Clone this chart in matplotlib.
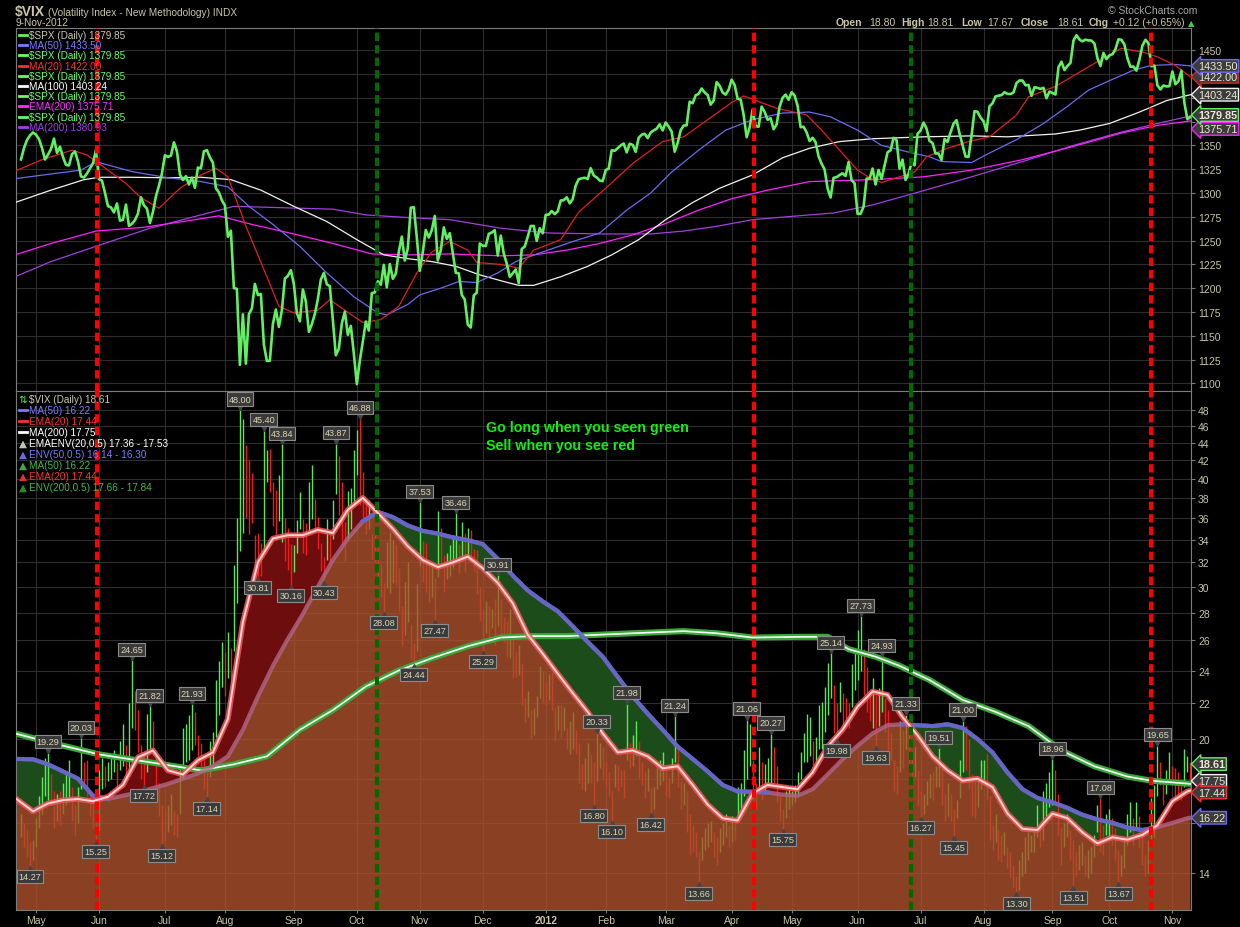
import numpy as np
import matplotlib
matplotlib.use("Agg")
import matplotlib.pyplot as plt
from matplotlib.lines import Line2D
from matplotlib.patches import Rectangle
from matplotlib.transforms import offset_copy

plt.rcParams['font.family'] = ['Liberation Sans', 'DejaVu Sans']

W, H = 1240, 928

# x axis = trading days counted from 2 May 2011 (day 0); first bar is 25 Apr 2011 (day -5)
first_day = -5
month_days = [0, 21, 43, 63, 86, 107, 128, 149, 170, 190, 210, 232, 252, 274, 295, 316, 339, 358, 379]
month_labels = ["May", "Jun", "Jul", "Aug", "Sep", "Oct", "Nov", "Dec", "2012", "Feb", "Mar",
                "Apr", "May", "Jun", "Jul", "Aug", "Sep", "Oct", "Nov"]

# $SPX daily closes, 25 Apr 2011 .. 9 Nov 2012
spx_close = [
    1335.25, 1347.24, 1355.66, 1360.48, 1363.61,
    1361.22, 1356.62, 1347.32, 1335.10, 1340.20, 1346.29, 1357.16, 1342.08, 1348.65, 1337.77,
    1329.47, 1328.98, 1340.68, 1343.60, 1333.27, 1317.37, 1316.28, 1320.47, 1325.69, 1331.10, 1345.20,
    1314.55, 1312.94, 1300.16, 1286.17, 1284.94, 1279.56, 1289.00, 1270.98, 1271.83, 1287.87, 1265.42,
    1267.64, 1271.50, 1278.36, 1295.52, 1287.14, 1283.50, 1268.45, 1280.10, 1296.67, 1307.41, 1320.64,
    1339.67, 1337.88, 1339.22, 1353.22, 1343.80, 1319.49, 1313.64, 1317.72, 1308.87, 1316.14,
    1305.44, 1326.73, 1325.84, 1343.80, 1345.02, 1337.43, 1331.94, 1304.89, 1300.67, 1292.28,
    1286.94, 1254.05, 1260.34, 1200.07, 1199.38, 1119.46, 1172.53, 1120.76, 1172.64, 1178.81, 1204.49,
    1192.76, 1193.89, 1140.65, 1123.53, 1123.82, 1162.35, 1177.60, 1159.27, 1176.80, 1210.08, 1212.92, 1218.89,
    1204.42, 1173.97, 1165.24, 1198.62, 1185.90, 1154.23, 1162.27, 1172.87, 1188.68, 1209.11, 1216.01,
    1204.09, 1202.09, 1166.76, 1129.56, 1136.43, 1162.95, 1175.38, 1151.06, 1160.40, 1131.42,
    1099.23, 1123.95, 1144.03, 1164.97, 1155.46, 1194.89, 1195.54, 1207.25, 1203.66, 1224.58, 1200.86,
    1225.38, 1209.88, 1215.39, 1238.25, 1254.19, 1229.05, 1242.00, 1284.59, 1285.09, 1253.30,
    1218.28, 1237.90, 1261.15, 1253.23, 1261.12, 1275.92, 1229.10, 1239.70, 1263.85, 1251.78, 1257.81,
    1236.91, 1216.13, 1215.65, 1192.98, 1188.04, 1161.79, 1158.67, 1192.55, 1195.19, 1246.96,
    1244.58, 1244.28, 1257.08, 1258.47, 1261.01, 1234.35, 1255.19, 1236.47, 1225.73, 1211.82, 1215.75,
    1219.66, 1205.35, 1241.30, 1243.72, 1254.00, 1265.33, 1265.43, 1249.64, 1263.02, 1257.60,
    1277.06, 1277.30, 1281.06, 1277.81, 1280.70, 1292.08, 1292.48, 1295.50, 1289.09, 1293.67,
    1308.04, 1314.50, 1315.38, 1316.00, 1314.65, 1326.06, 1318.43, 1316.33, 1313.01, 1312.41,
    1324.09, 1325.54, 1344.90, 1344.33, 1347.05, 1349.96, 1351.95, 1342.64, 1351.77, 1350.50,
    1343.23, 1358.04, 1361.23, 1362.21, 1357.66, 1363.46, 1365.74, 1367.59, 1372.18, 1365.68,
    1374.09, 1369.63, 1364.33, 1343.36, 1352.63, 1365.91, 1370.87, 1371.09, 1395.95, 1394.28, 1402.60,
    1404.17, 1409.75, 1405.52, 1402.89, 1392.78, 1397.11, 1416.51, 1412.52, 1405.54, 1403.28, 1408.47,
    1419.04, 1413.38, 1398.96, 1398.08, 1382.20, 1358.59, 1368.71, 1387.57, 1370.26, 1369.57,
    1390.78, 1385.14, 1376.92, 1378.53, 1366.94, 1371.97, 1390.69, 1399.98, 1403.36, 1397.91,
    1405.82, 1402.31, 1391.57, 1369.10, 1369.58, 1363.72, 1354.58, 1357.99, 1353.39, 1338.35, 1330.66,
    1324.80, 1304.86, 1295.22, 1315.99, 1316.63, 1318.86, 1320.68, 1317.82, 1332.42, 1313.32, 1310.33,
    1278.04, 1278.18, 1285.50, 1315.13, 1314.99, 1325.66, 1308.93, 1324.18, 1314.88, 1329.10, 1342.84,
    1344.78, 1357.98, 1355.69, 1325.51, 1335.02, 1313.72, 1319.99, 1331.85, 1329.04, 1362.16,
    1365.51, 1374.02, 1367.58, 1354.68, 1352.46, 1341.47, 1341.45, 1334.76, 1356.78, 1353.64, 1363.67,
    1372.78, 1376.51, 1362.66, 1350.52, 1338.31, 1337.89, 1360.02, 1385.97, 1385.30, 1379.32,
    1375.32, 1365.00, 1390.99, 1394.23, 1401.35, 1402.22, 1402.80, 1405.87, 1404.11, 1403.93, 1405.53,
    1415.51, 1418.16, 1418.13, 1413.17, 1413.49, 1402.08, 1411.13, 1410.44, 1409.30, 1410.49, 1399.48, 1406.58,
    1404.94, 1403.44, 1432.12, 1437.92, 1429.08, 1433.56, 1436.56, 1459.99, 1465.77, 1461.19,
    1459.32, 1461.05, 1460.26, 1460.15, 1456.89, 1441.59, 1433.32, 1447.15, 1440.67,
    1444.49, 1445.75, 1450.99, 1461.40, 1460.93, 1455.88, 1441.48, 1432.56, 1432.84, 1428.59, 1440.13,
    1454.92, 1460.91, 1457.34, 1433.19, 1433.82, 1413.11, 1408.75, 1412.97, 1411.94, 1412.16,
    1427.59, 1414.20, 1417.26, 1428.39, 1394.53, 1377.51, 1379.85,
]

# averages
spx_ma20_day = [-7, 2, 12, 17, 21, 30, 35, 41, 48, 55, 60, 64, 70, 77, 81, 86, 94, 98, 102, 109,
                115, 121, 127, 132, 138, 144, 147, 155, 161, 166, 175, 181, 190, 199, 209, 216, 224, 232,
                236, 247, 257, 262, 268, 274, 278, 282, 288, 293, 297, 304, 311, 318, 327, 331, 340, 347,
                354, 362, 369, 374, 380, 385]
spx_ma20 = [1323, 1335, 1345, 1340, 1331, 1310, 1295, 1284, 1305, 1319, 1326, 1317, 1265, 1212, 1181,
            1174, 1177, 1188, 1179, 1164, 1167, 1181, 1216, 1238, 1249, 1240, 1227, 1225, 1221, 1240,
            1251, 1280, 1305, 1331, 1354, 1359, 1377, 1395, 1402, 1389, 1382, 1366, 1345, 1324, 1316,
            1311, 1317, 1322, 1338, 1347, 1354, 1359, 1382, 1401, 1412, 1425, 1438, 1452, 1448, 1443,
            1434, 1422]
spx_ma50_day = [-7, 5, 15, 19, 21, 32, 44, 55, 64, 71, 79, 88, 97, 106, 114, 117, 124, 128, 135, 141,
                147, 154, 160, 168, 179, 188, 197, 205, 212, 221, 230, 239, 249, 258, 265, 274, 282, 291,
                298, 302, 312, 318, 327, 336, 344, 351, 358, 366, 372, 380, 385]
spx_ma50 = [1315, 1320, 1324, 1331, 1332, 1322.5, 1316, 1312, 1306.5, 1286, 1267, 1244, 1216, 1191,
            1174, 1172, 1183, 1193, 1200, 1207, 1206, 1216, 1228, 1237, 1249, 1258, 1282, 1300, 1322,
            1345, 1366, 1377, 1384, 1385, 1380, 1366, 1350, 1343, 1338, 1333, 1332, 1342, 1356, 1373,
            1391, 1408, 1418, 1429, 1434, 1435, 1433.5]
spx_ma100_day = [-7, 5, 16, 21, 32, 44, 55, 65, 75, 86, 97, 107, 116, 124, 132, 140, 148, 156, 161, 166,
                 175, 184, 192, 201, 210, 219, 228, 239, 249, 258, 268, 279, 296, 312, 324, 340, 348, 358,
                 368, 377, 385]
spx_ma100 = [1290, 1303, 1314, 1316.5, 1316.5, 1316, 1316.5, 1314, 1303, 1286, 1270, 1251, 1235, 1231,
             1228, 1223, 1214, 1207, 1203, 1203, 1212, 1223, 1235, 1251, 1272, 1290, 1305, 1319, 1337,
             1347, 1354, 1357, 1359, 1360, 1359, 1362, 1366, 1373, 1385, 1397, 1403.24]
spx_ema200_day = [-7, 5, 20, 36, 49, 61, 72, 86, 99, 112, 125, 138, 155, 166, 177, 188, 199, 210, 221,
                  232, 244, 258, 279, 296, 312, 329, 346, 362, 374, 385]
spx_ema200 = [1235, 1247, 1260, 1264, 1270, 1276, 1267, 1257, 1247, 1236, 1235, 1236, 1234, 1235, 1240,
              1247, 1256, 1268, 1282, 1294, 1303, 1312, 1314, 1317, 1324, 1335, 1349, 1363, 1371, 1375.71]
spx_ma200_day = [-7, 5, 20, 38, 55, 66, 77, 99, 110, 125, 138, 155, 171, 188, 205, 216, 227, 239, 258,
                 266, 279, 291, 301, 312, 329, 346, 362, 374, 385]
spx_ma200 = [1212, 1228, 1244, 1263, 1277, 1286, 1285, 1283, 1277, 1274, 1272, 1263, 1258, 1257, 1257,
             1260, 1265, 1272, 1277, 1279, 1287.5, 1298, 1307, 1317, 1333, 1350, 1364, 1373, 1380.93]

# $VIX daily high and low, 25 Apr 2011 .. 9 Nov 2012
vix_high = [
    16.4, 16.0, 15.7, 15.2, 15.3,
    16.2, 17.2, 18.1, 19.0, 19.29, 18.2, 17.4, 17.3, 17.4, 17.8, 18.3, 18.9, 17.6, 16.8, 17.6, 20.03,
    18.8, 18.9, 17.4, 16.9, 16.1,
    18.4, 19.0, 18.6, 18.8, 19.0, 19.4, 18.8, 19.9, 20.8, 19.7, 22.0, 24.65, 22.7, 21.6, 19.7, 19.3,
    21.4, 21.82, 21.0, 19.4, 17.8, 16.8,
    16.6, 16.8, 17.3, 16.5, 16.4, 18.7, 20.6, 20.8, 21.3, 21.93, 21.5, 20.2, 19.8, 18.9, 18.3, 19.9,
    20.4, 23.4, 24.6, 25.9,
    25.2, 26.6, 25.5, 31.8, 36.0, 48.00, 46.9, 43.7, 42.0, 40.6, 34.4, 34.6, 33.7, 45.40, 43.1, 43.3,
    39.6, 38.8, 40.4, 43.84, 36.0, 35.1, 33.6,
    33.5, 35.8, 38.6, 35.9, 35.5, 39.6, 41.5, 37.9, 36.1, 33.7, 32.5, 35.9, 34.5, 37.8, 43.87, 42.5,
    39.6, 35.6, 38.7, 39.0, 43.1,
    45.5, 46.88, 40.7, 37.6, 37.8, 34.5, 34.4, 33.4, 31.9, 30.3, 33.8, 34.7, 34.0, 33.5, 31.5, 28.5,
    30.4, 32.0, 27.1, 25.8, 30.2,
    37.53, 33.9, 33.7, 32.2, 32.0, 30.7, 36.7, 35.1, 32.6, 32.8, 33.5, 34.4, 36.46, 33.6, 35.6, 34.6,
    35.1, 34.9, 33.2, 33.1, 30.0,
    28.2, 28.9, 28.5, 28.3, 29.0, 30.91, 29.0, 27.7, 27.4, 28.3, 26.1, 25.2, 25.7, 24.5, 22.3, 22.7,
    21.6, 21.7, 22.4, 24.3, 24.0,
    23.3, 23.8, 23.9, 21.8, 21.9, 21.9, 21.8, 20.6, 21.0, 21.5, 20.5, 19.8, 18.7, 19.0, 19.8, 19.2,
    18.8, 20.33, 19.8, 19.6,
    18.8, 18.3, 17.4, 18.7, 18.6, 18.4, 18.4, 21.98, 19.8, 20.2, 21.0, 19.9, 18.8, 18.3, 18.5, 17.6,
    17.6, 18.6, 18.9, 19.3,
    18.5, 18.1, 19.0, 21.24, 19.7, 17.9, 17.8, 17.4, 16.4, 15.9, 15.6, 14.8, 15.4, 15.8, 16.0, 16.1,
    15.6, 15.4, 15.8, 16.0, 16.4, 15.9,
    16.3, 16.2, 17.6, 17.8, 19.4, 21.06, 20.8, 18.9, 17.8, 19.6, 18.8, 18.7, 19.0, 20.27, 19.6, 18.6,
    17.2, 16.6, 17.4, 17.5,
    17.4, 17.7, 18.3, 19.3, 20.3, 21.4, 21.2, 19.9, 20.1, 21.9, 22.1, 23.0, 24.5, 25.14, 23.1, 22.0,
    23.3, 22.6, 22.3, 22.0, 24.4, 25.4,
    26.7, 27.73, 25.4, 24.2, 22.8, 23.5, 22.8, 22.9, 24.93, 22.3, 21.6, 20.3, 18.9, 18.6, 21.0, 20.5,
    21.33, 20.3, 19.4, 19.6, 18.4,
    17.4, 17.3, 17.9, 18.2, 18.3, 18.6, 19.51, 18.5, 17.3, 17.8, 17.3, 16.6, 17.0, 18.9, 21.00, 20.7,
    20.0, 18.2, 17.9, 18.0, 18.9,
    18.9, 19.2, 17.2, 15.9, 16.4, 15.7, 15.5, 15.6, 15.0, 14.8, 14.3, 13.9, 14.5, 14.8, 15.4, 15.6,
    15.5, 15.6, 16.8, 16.0, 17.4, 17.8, 18.3,
    18.96, 18.4, 17.3, 15.8, 16.0, 16.4, 15.7, 15.3, 14.8, 15.1, 15.2, 14.7, 14.9, 15.0, 15.5, 16.8,
    17.08, 15.9, 16.4,
    16.6, 16.2, 15.8, 14.9, 14.7, 15.4, 16.4, 16.9, 16.2, 16.9, 16.3, 15.5, 14.7, 15.3, 17.1, 17.7,
    19.65, 18.8, 17.9, 18.4, 19.3,
    18.6, 18.5, 18.3, 18.0, 19.5, 19.1, 18.81,
]
vix_low = [
    15.4, 15.0, 14.6, 14.27, 14.5,
    15.0, 15.8, 16.4, 17.2, 17.0, 16.8, 15.8, 16.1, 15.9, 16.4, 16.8, 17.1, 16.1, 15.5, 16.0, 17.5,
    17.6, 17.2, 16.3, 15.8, 15.25,
    15.7, 17.5, 17.6, 17.9, 18.0, 18.3, 17.6, 18.4, 18.6, 17.9, 18.3, 20.6, 20.5, 19.3, 18.0, 17.72,
    18.3, 19.4, 19.2, 17.5, 16.3, 15.12,
    15.3, 15.6, 15.9, 15.5, 15.4, 16.4, 18.0, 18.8, 18.9, 19.4, 19.7, 18.7, 18.5, 17.5, 17.14, 18.1,
    18.7, 20.1, 21.3, 23.0,
    22.4, 23.5, 22.9, 25.3, 28.7, 33.0, 34.6, 36.0, 34.5, 35.5, 31.7, 30.81, 30.9, 33.0, 39.6, 38.6,
    35.3, 34.0, 35.7, 33.8, 32.1, 31.4, 30.16,
    31.2, 32.8, 35.0, 32.8, 32.6, 34.8, 35.9, 35.0, 33.2, 31.3, 30.43, 32.2, 31.9, 34.1, 38.4, 36.3,
    33.5, 32.1, 33.9, 35.0, 37.2,
    40.4, 37.3, 35.6, 34.5, 35.0, 32.3, 32.0, 30.8, 29.2, 28.08, 29.9, 29.5, 30.3, 30.1, 28.1, 25.6,
    26.4, 27.3, 24.7, 24.44, 25.3,
    31.7, 30.4, 29.6, 28.8, 29.2, 27.47, 30.8, 31.6, 29.6, 30.6, 30.9, 31.5, 32.0, 31.1, 32.5, 31.2,
    32.5, 32.4, 31.3, 29.4, 27.4,
    25.29, 26.5, 26.2, 26.9, 25.7, 27.0, 26.3, 25.9, 24.9, 24.8, 23.5, 23.6, 23.7, 21.9, 20.9, 21.2,
    20.0, 20.2, 21.2, 22.3, 22.0,
    21.9, 22.2, 21.6, 19.9, 20.5, 20.1, 20.5, 19.5, 19.2, 19.5, 19.2, 17.8, 17.5, 17.4, 17.8, 17.8,
    16.80, 17.9, 18.5, 18.0,
    17.6, 17.2, 16.10, 17.6, 17.4, 17.6, 17.1, 18.9, 18.5, 18.6, 19.1, 18.0, 17.7, 17.1, 17.4, 16.42,
    16.6, 17.5, 17.7, 17.9,
    17.2, 17.1, 17.8, 18.8, 17.6, 16.6, 16.8, 15.6, 14.7, 14.8, 14.6, 13.66, 14.5, 14.9, 15.0, 15.2,
    14.6, 14.3, 14.8, 15.1, 15.4, 15.0,
    15.2, 15.3, 16.2, 16.5, 17.2, 18.0, 18.6, 16.8, 16.6, 17.5, 17.0, 17.3, 17.6, 17.7, 17.8, 16.9,
    16.1, 15.75, 16.2, 16.6,
    16.8, 16.9, 17.2, 18.0, 18.8, 18.8, 19.1, 18.3, 18.6, 19.5, 19.5, 20.4, 21.3, 22.3, 20.3, 19.98,
    21.5, 20.7, 20.7, 20.6, 21.8, 22.8,
    23.4, 24.0, 22.5, 21.5, 21.0, 20.6, 19.63, 20.7, 21.5, 20.4, 19.2, 18.9, 17.4, 17.3, 18.3, 18.5,
    19.5, 18.6, 18.0, 18.1, 16.8,
    16.27, 16.4, 16.8, 17.1, 17.0, 17.6, 17.6, 16.8, 16.1, 16.3, 16.1, 15.45, 16.2, 17.1, 18.3, 18.4,
    17.5, 16.3, 16.2, 16.7, 17.5,
    17.7, 17.0, 15.3, 14.9, 15.2, 14.5, 14.4, 14.7, 14.2, 13.8, 13.5, 13.30, 13.4, 13.9, 14.0, 14.5,
    14.8, 14.8, 15.4, 15.0, 15.3, 16.3, 16.7,
    16.8, 16.9, 15.5, 14.3, 15.0, 15.4, 14.5, 13.51, 13.9, 14.1, 14.3, 13.9, 13.8, 14.0, 14.6, 15.6,
    14.8, 14.7, 15.5,
    15.3, 15.1, 14.5, 13.67, 13.9, 14.2, 15.1, 15.6, 15.1, 15.7, 15.0, 14.3, 13.9, 14.0, 15.1, 15.4,
    17.2, 17.7, 16.8, 17.3, 18.0,
    17.7, 17.1, 17.0, 17.0, 17.6, 18.3, 17.67,
]

# VIX averages, every 5 trading days
vix_avg_day = [-7] + list(range(-1, 385, 5)) + [385]
vix_ema20 = [17.1, 16.5, 16.85, 17.0, 17.05, 16.95, 17.15, 17.7, 19.05, 19.4,
             18.4, 18.2, 18.9, 19.3, 21.1, 27.3, 32.0, 34.1, 34.4, 34.4,
             34.9, 34.6, 36.8, 38.0, 36.5, 35.0, 33.4, 32.2, 31.6, 32.0,
             32.5, 31.5, 30.3, 28.7, 26.4, 25.1, 23.8, 22.6, 21.5, 20.3,
             19.3, 19.4, 19.1, 18.5, 18.6, 17.7, 16.8, 16.2, 16.1, 17.3,
             17.7, 17.6, 17.5, 18.3, 19.6, 20.5, 21.8, 22.7, 22.5, 21.2,
             20.2, 19.1, 18.4, 17.9, 18.0, 17.6, 16.4, 15.75, 15.7, 16.4,
             16.2, 15.6, 15.15, 15.4, 15.3, 15.5, 15.9, 16.95, 17.4, 17.44]
vix_ma50 = [18.97, 18.95, 18.7, 18.35, 18.0, 17.2, 17.05, 17.2, 17.35, 17.55,
            17.75, 18.0, 18.25, 18.6, 19.1, 20.5, 22.4, 24.3, 26.1, 27.9,
            30.0, 32.2, 34.1, 35.7, 36.6, 36.1, 35.3, 34.8, 34.55, 34.2,
            33.95, 33.6, 32.3, 30.9, 29.7, 28.85, 28.1, 27.0, 25.9, 24.9,
            23.6, 22.4, 21.4, 20.5, 19.6, 18.97, 18.35, 17.7, 17.4, 17.38,
            17.35, 17.25, 17.2, 17.5, 18.2, 18.95, 19.65, 20.3, 20.75, 20.8,
            20.75, 20.7, 20.8, 20.6, 20.0, 19.3, 18.3, 17.5, 17.1, 16.9,
            16.65, 16.35, 16.15, 16.0, 15.8, 15.7, 15.82, 16.0, 16.2, 16.22]
vix_ma200_day = [-7, 5, 21, 38, 55, 66, 77, 88, 99, 110, 121, 132, 144, 155, 166, 177, 188, 199, 216,
                 227, 239, 255, 264, 271, 280, 288, 298, 309, 320, 331, 342, 353, 364, 372, 385]
vix_ma200 = [20.3, 19.8, 19.2, 18.8, 18.4, 18.7, 19.1, 20.5, 21.6, 23.0, 24.0, 24.8, 25.6, 26.2, 26.3,
             26.3, 26.4, 26.5, 26.65, 26.5, 26.2, 26.25, 26.25, 25.4, 24.9, 24.3, 23.4, 22.2, 21.5,
             20.7, 19.4, 18.6, 18.1, 17.9, 17.75]

# labelled swing highs and lows
vix_peak_day = [4, 15, 32, 38, 52, 68, 76, 82, 100, 108, 128, 140, 154, 187, 197, 213, 237, 245, 265,
                275, 282, 290, 301, 309, 339, 355, 374]
vix_peak = [19.29, 20.03, 24.65, 21.82, 21.93, 48.00, 45.40, 43.84, 43.87, 46.88, 37.53, 36.46, 30.91,
            20.33, 21.98, 21.24, 21.06, 20.27, 25.14, 27.73, 24.93, 21.33, 19.51, 21.00, 18.96, 17.08, 19.65]
vix_trough_day = [-2, 20, 36, 42, 57, 74, 85, 96, 116, 126, 133, 149, 186, 192, 205, 221, 249, 267, 280,
                  295, 306, 327, 346, 361]
vix_trough = [14.27, 15.25, 17.72, 15.12, 17.14, 30.81, 30.16, 30.43, 28.08, 24.44, 27.47, 25.29, 16.80,
              16.10, 16.42, 13.66, 15.75, 19.98, 19.63, 16.27, 15.45, 13.30, 13.51, 13.67]

# signal lines: red = sell, green = buy
sell_days = [20.5, 239.3, 371.7]
buy_days = [113.7, 291.7]

TAN = '#cac5a6'
GRID = '#2e2e2e'


def px(x, y):
    return x / W, 1 - y / H


fig = plt.figure(figsize=(W / 100, H / 100), dpi=100, facecolor='black')
ax1 = fig.add_axes([16 / W, 1 - 392.3 / H, 1175 / W, (392.3 - 29.3) / H])
ax2 = fig.add_axes([16 / W, 1 - 910.7 / H, 1175 / W, (910.7 - 392.3) / H], sharex=ax1)

for ax in (ax1, ax2):
    ax.set_facecolor('black')
    ax.set_axisbelow(True)
    ax.grid(True, color=GRID, lw=0.8)
    for s in ax.spines.values():
        s.set_color('#7c7c7c')
    ax.yaxis.tick_right()
    ax.tick_params(axis='y', which='both', color='#7c7c7c', labelcolor=TAN, labelsize=7.5,
                   length=3, pad=2)
    for d in sell_days:
        ax.axvline(d, color='#ff0000', lw=3, ls=(0, (2, 1)), zorder=5)
    for d in buy_days:
        ax.axvline(d, color='#006a00', lw=3, ls=(0, (2, 1)), zorder=5)

# ---- upper panel: $SPX ----
spx_day = np.arange(len(spx_close)) + first_day
ax1.plot(spx_ma200_day, spx_ma200, color='#a040e0', lw=0.9, zorder=3)
ax1.plot(spx_ema200_day, spx_ema200, color='#ff22ff', lw=0.9, zorder=3)
ax1.plot(spx_ma100_day, spx_ma100, color='#f2f2f2', lw=0.9, zorder=3)
ax1.plot(spx_ma50_day, spx_ma50, color='#6b6bf0', lw=0.9, zorder=3)
ax1.plot(spx_ma20_day, spx_ma20, color='#e02020', lw=0.9, zorder=3)
ax1.plot(spx_day, spx_close, color='#62f062', lw=1.9, zorder=4)
spx_ticks = np.arange(1100, 1451, 25)
ax1.set_yticks(spx_ticks)
# labels under the value tags are hidden in the original
ax1.set_yticklabels(['' if t in (1375, 1400, 1425) else str(t) for t in spx_ticks])
ax1.tick_params(axis='x', labelbottom=False, length=0)
ax1.add_patch(Rectangle(px(16, 132), (123 - 16) / W, (132 - 29.3) / H, transform=fig.transFigure,
                        fc='black', ec='none', zorder=2.5))

# ---- lower panel: $VIX ----
hi = np.array(vix_high)
lo = np.array(vix_low)
vday = np.arange(len(hi)) + first_day
mid = (hi + lo) / 2
up = np.r_[True, mid[1:] > mid[:-1]]
ema = np.array(vix_ema20)
ma = np.array(vix_ma50)

ax2.fill_between(vix_avg_day, ma, ema, where=ema >= ma, interpolate=True, color='#6e0d0d', lw=0, zorder=1.5)
ax2.fill_between(vix_avg_day, ema, ma, where=ma > ema, interpolate=True, color='#1d4c1b', lw=0, zorder=1.5)
ax2.vlines(vday, lo, hi, colors=np.where(up, '#58e858', '#f01a1a'), lw=1.0, zorder=2)
ax2.fill_between(vix_avg_day, 1.0, np.minimum(ema, ma), color='#ae522d', alpha=0.8, lw=0, zorder=2.5)

ax2.plot(vix_ma200_day, vix_ma200, color='#38a838', lw=4.4, zorder=3)
ax2.plot(vix_ma200_day, vix_ma200, color='#ffffff', lw=1.2, zorder=3.1)
# MA(50): mauve where it is the floor of the red zone, blue where it tops the green zone
ax2.plot(vix_avg_day, ma, color='#b06688', lw=3.0, alpha=0.8, zorder=3.2)
green_zone = ma > ema
green_zone = green_zone | np.r_[green_zone[1:], False] | np.r_[False, green_zone[:-1]]
ax2.plot(vix_avg_day, np.where(green_zone, ma, np.nan), color='#5f68d4', lw=3.0, alpha=0.9, zorder=3.25)
ax2.plot(vix_avg_day, ema, color='#ee5555', lw=4.0, alpha=0.9, zorder=3.3)
ax2.plot(vix_avg_day, ema, color='#ffd6d6', lw=1.4, zorder=3.4)

ax2.set_yscale('log')
vix_ticks = np.arange(14, 49, 2)
ax2.set_yticks(vix_ticks)
ax2.set_yticklabels(['' if t in (16, 18) else str(t) for t in vix_ticks])
ax2.yaxis.set_minor_locator(matplotlib.ticker.NullLocator())

tri_up = offset_copy(ax2.transData, fig=fig, x=0, y=3, units='dots')
tri_dn = offset_copy(ax2.transData, fig=fig, x=0, y=-3, units='dots')
box = dict(boxstyle='square,pad=0.22', fc='#3a3a3a', ec='#8c8c8c', lw=0.8)
for d, v in zip(vix_peak_day, vix_peak):
    ax2.plot(d, v, marker='v', ms=5, color='#444444', transform=tri_up, zorder=7)
    ax2.annotate(f"{v:.2f}", xy=(d, v), xytext=(0, 11), textcoords='offset pixels', ha='center',
                 va='center', fontsize=6.6, color='#dcd6b6', bbox=box, zorder=7)
for d, v in zip(vix_trough_day, vix_trough):
    ax2.plot(d, v, marker='^', ms=5, color='#444444', transform=tri_dn, zorder=7)
    ax2.annotate(f"{v:.2f}", xy=(d, v), xytext=(0, -11), textcoords='offset pixels', ha='center',
                 va='center', fontsize=6.6, color='#dcd6b6', bbox=box, zorder=7)

ax2.set_xticks(month_days)
ax2.set_xticklabels(month_labels)
ax2.tick_params(axis='x', labelsize=7.5, labelcolor=TAN, color='#7c7c7c', length=2, pad=1.5)
for t in ax2.get_xticklabels():
    if t.get_text() == '2012':
        t.set_fontweight('bold')

ax1.set_xlim(-6.67, 385.2)
ax1.set_ylim(1091.7, 1473)
ax2.set_ylim(12.70, 50.45)


# ---- last-value tags on the right ----
def tag(ax, y, text, edge, bold=False, nudge=0):
    ax.annotate(text, xy=(1.0, y), xycoords=('axes fraction', 'data'), xytext=(7, nudge),
                textcoords='offset pixels', ha='left', va='center', fontsize=7.8,
                color='#ece8d4', fontweight='bold' if bold else 'normal',
                bbox=dict(boxstyle='larrow,pad=0.12', fc='#3c3c3c', ec=edge, lw=1.0),
                annotation_clip=False, zorder=8)


tag(ax1, spx_ema200[-1], "1375.71", '#ff22ff', nudge=-8)
tag(ax1, spx_ma100[-1], "1403.24", '#f2f2f2')
tag(ax1, spx_ma20[-1], "1422.00", '#e02020')
tag(ax1, spx_ma50[-1], "1433.50", '#6b6bf0')
tag(ax1, spx_close[-1], "1379.85", '#62f062', bold=True, nudge=2)
tag(ax2, vix_ma50[-1], "16.22", '#6b6bf0')
tag(ax2, vix_ma200[-1], "17.75", '#f2f2f2', nudge=3)
tag(ax2, vix_ema20[-1], "17.44", '#ff3030', nudge=-2)
tag(ax2, 18.61, "18.61", '#62f062', bold=True, nudge=2)

# ---- legends ----
top_rows = [("\\$SPX (Daily) 1379.85", '#cac8b0', '#62f062'), ("MA(50) 1433.50", '#7b7bff', '#7b7bff'),
            ("\\$SPX (Daily) 1379.85", '#66ff66', '#66ff66'), ("MA(20) 1422.00", '#ff3030', '#ff3030'),
            ("\\$SPX (Daily) 1379.85", '#66ff66', '#66ff66'), ("MA(100) 1403.24", '#ffffff', '#ffffff'),
            ("\\$SPX (Daily) 1379.85", '#66ff66', '#66ff66'), ("EMA(200) 1375.71", '#ff30ff', '#ff30ff'),
            ("\\$SPX (Daily) 1379.85", '#66ff66', '#66ff66'), ("MA(200) 1380.93", '#a040e0', '#a040e0')]
for k, (txt, col, icol) in enumerate(top_rows):
    y = 36 + 10.2 * k
    fig.add_artist(Line2D([19 / W, 27 / W], [1 - y / H] * 2, color=icol, lw=2))
    fig.text(*px(29.5, y), txt, color=col, fontsize=7.2, va='center', zorder=6)

bot_rows = [("\\$VIX (Daily) 18.61", '#cac8b0', '#58e858', 'bar'),
            ("MA(50) 16.22", '#7b7bff', '#7b7bff', 'line'),
            ("EMA(20) 17.44", '#ff3030', '#ff3030', 'line'),
            ("MA(200) 17.75", '#ffffff', '#ffffff', 'line'),
            ("EMAENV(20,0.5) 17.36 - 17.53", '#ffffff', '#b8c8b0', 'area'),
            ("ENV(50,0.5) 16.14 - 16.30", '#7b7bff', '#6a6ad8', 'area'),
            ("MA(50) 16.22", '#44b844', '#44a844', 'area'),
            ("EMA(20) 17.44", '#ff3030', '#e03030', 'area'),
            ("ENV(200,0.5) 17.66 - 17.84", '#44b844', '#2a8a2a', 'area')]
for k, (txt, col, icol, kind) in enumerate(bot_rows):
    y = 399.8 + 11 * k
    if kind == 'line':
        fig.add_artist(Line2D([19 / W, 27 / W], [1 - y / H] * 2, color=icol, lw=2))
    elif kind == 'area':
        fig.text(*px(18.5, y), "\u25b2", color=icol, fontsize=7.5, va='center',
                 family=['DejaVu Sans'])
    else:
        fig.text(*px(18.5, y), "\u21c5", color=icol, fontsize=7.5, va='center',
                 family=['DejaVu Sans'])
    fig.text(*px(29.5, y), txt, color=col, fontsize=7.2, va='center', zorder=6)

# ---- header ----
fig.text(*px(15, 12), "\\$VIX", color=TAN, fontsize=10, fontweight='bold', va='center')
fig.text(*px(48, 12.5), "(Volatility Index - New Methodology) INDX", color=TAN, fontsize=7.3, va='center')
fig.text(*px(16, 23.5), "9-Nov-2012", color=TAN, fontsize=7.3, va='center')
fig.text(*px(1197, 10.7), "\u00a9 StockCharts.com", color='#a8a8a8', fontsize=7.5, va='center', ha='right')
head = [(836, "Open", True), (869, "18.80", False), (901, "High", True), (927, "18.81", False),
        (961, "Low", True), (987, "17.67", False), (1021, "Close", True), (1057, "18.61", False),
        (1089, "Chg", True), (1113, "+0.12 (+0.65%)", False)]
for x, txt, b in head:
    fig.text(*px(x, 23.3), txt, color=TAN, fontsize=7.5, va='center',
             fontweight='bold' if b else 'normal')
fig.text(*px(1188, 23.3), "\u25b2", color='#3cd03c', fontsize=6, va='center', family=['DejaVu Sans'])

fig.text(*px(486, 428), "Go long when you seen green", color='#11ee11', fontsize=10.3,
         fontweight='bold', va='center', zorder=9)
fig.text(*px(486, 446), "Sell when you see red", color='#11ee11', fontsize=10.3,
         fontweight='bold', va='center', zorder=9)

fig.savefig("out.png", dpi=100, facecolor='black')
